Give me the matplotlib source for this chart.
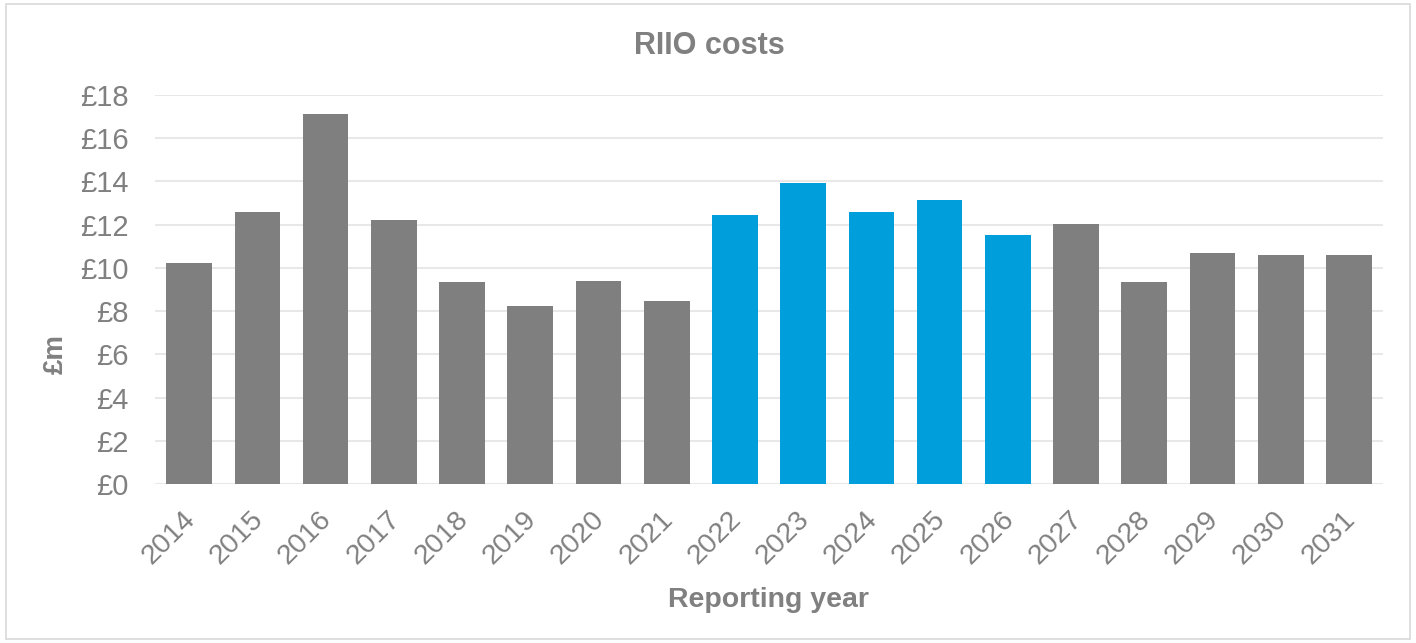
import matplotlib
matplotlib.use("Agg")
import matplotlib.pyplot as plt
import matplotlib.transforms as mtransforms
from matplotlib.patches import Rectangle

# RIIO costs by reporting year (GBP m)
years = ["2014", "2015", "2016", "2017", "2018", "2019", "2020", "2021", "2022",
         "2023", "2024", "2025", "2026", "2027", "2028", "2029", "2030", "2031"]
costs = [10.23, 12.58, 17.13, 12.21, 9.33, 8.24, 9.38, 8.45, 12.42,
         13.90, 12.60, 13.12, 11.52, 12.01, 9.35, 10.67, 10.61, 10.61]
riio_period = ["2022", "2023", "2024", "2025", "2026"]
y_ticks = [0, 2, 4, 6, 8, 10, 12, 14, 16, 18]

GREY = "#7F7F80"
BLUE = "#009FDB"
TEXT = "#808080"

plt.rcParams["font.family"] = ["Liberation Sans", "DejaVu Sans"]

fig = plt.figure(figsize=(14.16, 6.43), dpi=100)
ax = fig.add_axes([0.1095, 0.2468, 0.8672, 0.6059])

colors = [BLUE if y in riio_period else GREY for y in years]
x = range(len(years))
ax.bar(x, costs, width=0.67, color=colors, zorder=3)

ax.set_xlim(-0.5, len(years) - 0.5)
ax.set_ylim(0, 18)
ax.set_yticks(y_ticks)
ax.set_yticklabels([f"£{v}" for v in y_ticks], fontsize=21, color=TEXT)
ax.set_xticks(list(x))
ax.set_xticklabels(years, rotation=45, ha="right", rotation_mode="anchor",
                   fontsize=20.5, color=TEXT)
ax.tick_params(axis="both", length=0)
ax.tick_params(axis="y", pad=19)
ax.tick_params(axis="x", pad=16)
ax.yaxis.grid(True, color="#E8E8E8", linewidth=1.5, zorder=0)
for s in ax.spines.values():
    s.set_visible(False)

# nudge the slanted year labels a little left, as in the original
shift = mtransforms.ScaledTranslation(-7 / 100, 0, fig.dpi_scale_trans)
for lbl in ax.get_xticklabels():
    lbl.set_transform(lbl.get_transform() + shift)

fig.text(0.0395, 0.4497, "£m", rotation=90, ha="center", va="center",
         fontsize=20, fontweight="bold", color=TEXT)
fig.text(0.5424, 0.056, "Reporting year", ha="center", va="baseline",
         fontsize=20.5, fontweight="bold", color=TEXT)
fig.text(0.5007, 0.916, "RIIO costs", ha="center", va="baseline",
         fontsize=22, fontweight="bold", color=TEXT)

fig.patches.append(Rectangle((0.004, 0.006), 0.992, 0.988, transform=fig.transFigure,
                             fill=False, edgecolor="#D9D9D9", linewidth=1.2))

fig.savefig("out.png", dpi=100)
